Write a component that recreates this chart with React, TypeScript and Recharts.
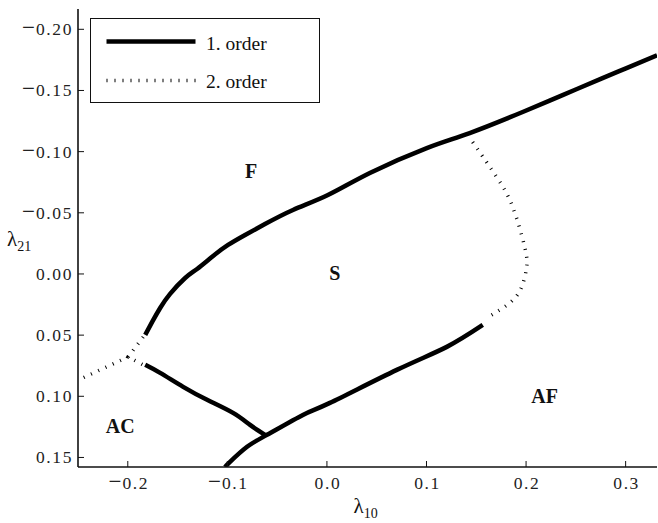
import React from 'react';
import { ComposedChart, Line, XAxis, YAxis, Legend, ReferenceDot } from 'recharts';

// ---- axis ticks ----
const xTicks = [-0.2, -0.1, 0, 0.1, 0.2, 0.3];
const yTicks = [-0.2, -0.15, -0.1, -0.05, 0, 0.05, 0.1, 0.15];
const xDomain = [-0.25, 0.3315];
const yDomain = [-0.2166, 0.1578];

// ---- 1st order transitions ----
// F / S boundary (continues as F / AF)
const upperX = [-0.1825, -0.1755, -0.1675, -0.1575, -0.1424, -0.1304, -0.1143, -0.0993, -0.0822, -0.0622, -0.0341, 0.001, 0.0431, 0.1003, 0.1434, 0.1966, 0.2367, 0.2768, 0.3009, 0.3315];
const upperY = [0.0498, 0.0392, 0.0278, 0.0163, 0.0033, -0.0041, -0.0147, -0.0237, -0.0319, -0.0408, -0.0523, -0.0645, -0.0825, -0.1029, -0.1152, -0.1324, -0.1462, -0.1601, -0.1683, -0.1787];
// S / AF boundary (continues as AC / AF)
const lowerX = [0.1565, 0.1204, 0.0702, 0.003, -0.0241, -0.0602, -0.0802, -0.0973, -0.1023];
const lowerY = [0.0417, 0.0596, 0.0784, 0.1054, 0.1152, 0.1315, 0.1413, 0.1536, 0.1578];
// S / AC boundary
const acX = [-0.1825, -0.1675, -0.1444, -0.1204, -0.0943, -0.0772, -0.0622];
const acY = [0.0743, 0.0809, 0.0923, 0.1029, 0.1136, 0.1234, 0.1315];

// ---- 2nd order transitions ----
const rightX = [0.1464, 0.1705, 0.1866, 0.1986, 0.2006, 0.1956, 0.1836, 0.1605];
const rightY = [-0.1078, -0.0792, -0.0547, -0.0221, -0.0057, 0.0106, 0.0237, 0.0359];
const tripleX = [-0.1845, -0.1996, -0.1845];
const tripleY = [0.0515, 0.0678, 0.0743];
const leftX = [-0.1996, -0.25];
const leftY = [0.0678, 0.0868];

// ---- phase labels ----
const regionNames = ['F', 'S', 'AF', 'AC'];
const regionX = [-0.0762, 0.008, 0.2187, -0.2076];
const regionY = [-0.0841, -0.0008, 0.0997, 0.1242];

const seriesNames = ['1. order', '2. order'];

const pts = (xs: number[], ys: number[]) => xs.map((x, i) => ({ x, y: ys[i] }));

const SERIF = '"Liberation Serif", "Times New Roman", serif';
const INK = '#111';

const tickText = { fontFamily: SERIF, fontSize: 17.5, letterSpacing: 1.6, fill: '#222' } as const;

const TickLabel = ({ v, d }: { v: number; d: number }) => {
  const s = Math.abs(v).toFixed(d);
  return (
    <>
      {v < -1e-9 ? <tspan fontSize={23} letterSpacing={1}>{'\u2212'}</tspan> : null}
      <tspan>{s}</tspan>
    </>
  );
};

const BottomTick = (p: any) => (
  <g>
    <line x1={p.x} x2={p.x} y1={p.y} y2={p.y - 6} stroke={INK} strokeWidth={1} />
    <text x={p.x + 1} y={p.y + 22} textAnchor="middle" {...tickText}>
      <TickLabel v={p.payload.value} d={1} />
    </text>
  </g>
);
const LeftTick = (p: any) => (
  <g>
    <line x1={p.x} x2={p.x + 6} y1={p.y} y2={p.y} stroke={INK} strokeWidth={1} />
    <text x={p.x - 5} y={p.y + 6} textAnchor="end" {...tickText}>
      <TickLabel v={p.payload.value} d={2} />
    </text>
  </g>
);
const TopTick = (p: any) => (
  <line x1={p.x} x2={p.x} y1={p.y} y2={p.y + 6} stroke={INK} strokeWidth={1} />
);
const RightTick = (p: any) => (
  <line x1={p.x} x2={p.x - 6} y1={p.y} y2={p.y} stroke={INK} strokeWidth={1} />
);

const XLabel = (props: any) => {
  const vb = props.viewBox;
  return (
    <text x={vb.x + vb.width / 2 - 14} y={vb.y + 46} fontFamily={SERIF} fontSize={21} fill="#111">
      λ<tspan dy={5} fontSize={14}>10</tspan>
    </text>
  );
};
const YLabel = (props: any) => {
  const vb = props.viewBox;
  return (
    <text x={vb.x + 7} y={vb.y + 237} fontFamily={SERIF} fontSize={21} fill="#111">
      λ<tspan dy={5} fontSize={14}>21</tspan>
    </text>
  );
};

const LegendBox = (props: any) => {
  const items = (props.payload || []).filter((e: any) => e.type !== 'none');
  return (
    <div style={{ width: 228, height: 83, border: '1.5px solid #111', background: '#fff', position: 'relative' }}>
      <svg width={228} height={83} style={{ position: 'absolute', left: 0, top: 0 }}>
        {items.map((e: any, i: number) => (
          <g key={i}>
            <line
              x1={15.5}
              x2={104.5}
              y1={22.5 + i * 39}
              y2={22.5 + i * 39}
              stroke="#000"
              strokeWidth={i === 0 ? 4.5 : 3.5}
              strokeDasharray={i === 0 ? undefined : '1 7'}
            />
            <text x={115} y={30.5 + i * 38.5} fontFamily={SERIF} fontSize={19.5} fill="#111">{e.value}</text>
          </g>
        ))}
      </svg>
    </div>
  );
};

const solid = { stroke: '#000', strokeWidth: 4.5, dot: false, isAnimationActive: false, type: 'natural' as const, dataKey: 'y' };
const dotted = { stroke: '#000', strokeWidth: 3.5, strokeDasharray: '1 7', dot: false, isAnimationActive: false, type: 'natural' as const, dataKey: 'y' };

export default function App() {
  return (
    <div style={{ position: 'absolute', left: 0, top: 0, background: '#fff' }}>
      <ComposedChart width={658} height={523} margin={{ top: 9, right: 1, left: 0, bottom: 0 }}>
        <XAxis
          type="number"
          dataKey="x"
          domain={xDomain}
          ticks={xTicks}
          allowDataOverflow
          height={56}
          tickSize={0}
          tickMargin={0}
          tickLine={false}
          tick={BottomTick}
          axisLine={{ stroke: INK, strokeWidth: 1.6 }}
          interval={0}
          label={<XLabel />}
        />
        <XAxis
          xAxisId="top"
          orientation="top"
          type="number"
          dataKey="x"
          domain={xDomain}
          ticks={xTicks}
          allowDataOverflow
          height={0}
          tickSize={0}
          tickMargin={0}
          tickLine={false}
          tick={TopTick}
          axisLine={{ stroke: INK, strokeWidth: 1.6 }}
          interval={0}
        />
        <YAxis
          type="number"
          dataKey="y"
          domain={yDomain}
          ticks={yTicks}
          reversed
          allowDataOverflow
          width={78}
          tickSize={0}
          tickMargin={0}
          tickLine={false}
          tick={LeftTick}
          axisLine={{ stroke: INK, strokeWidth: 1.6 }}
          interval={0}
          label={<YLabel />}
        />
        <YAxis
          yAxisId="right"
          orientation="right"
          type="number"
          dataKey="y"
          domain={yDomain}
          ticks={yTicks}
          reversed
          allowDataOverflow
          width={0}
          tickSize={0}
          tickMargin={0}
          tickLine={false}
          tick={RightTick}
          axisLine={{ stroke: INK, strokeWidth: 1.6 }}
          interval={0}
        />
        <Legend
          layout="horizontal"
          verticalAlign="middle"
          align="center"
          content={<LegendBox />}
          wrapperStyle={{ left: 90, top: 18, width: 'auto' }}
        />
        <Line {...solid} data={pts(upperX, upperY)} name={seriesNames[0]} />
        <Line {...dotted} data={pts(rightX, rightY)} name={seriesNames[1]} />
        <Line {...solid} data={pts(lowerX, lowerY)} name={seriesNames[0]} legendType="none" />
        <Line {...solid} data={pts(acX, acY)} name={seriesNames[0]} legendType="none" />
        <Line {...dotted} data={pts(tripleX, tripleY)} name={seriesNames[1]} legendType="none" type="linear" />
        <Line {...dotted} data={pts(leftX, leftY)} name={seriesNames[1]} legendType="none" type="linear" />
        {regionNames.map((n, i) => (
          <ReferenceDot
            key={n}
            x={regionX[i]}
            y={regionY[i]}
            r={0}
            shape={(p: any) => (
              <text x={p.cx} y={p.cy + 7} textAnchor="middle" fontFamily={SERIF} fontWeight="bold" fontSize={20} fill="#111">
                {n}
              </text>
            )}
          />
        ))}
      </ComposedChart>
    </div>
  );
}
